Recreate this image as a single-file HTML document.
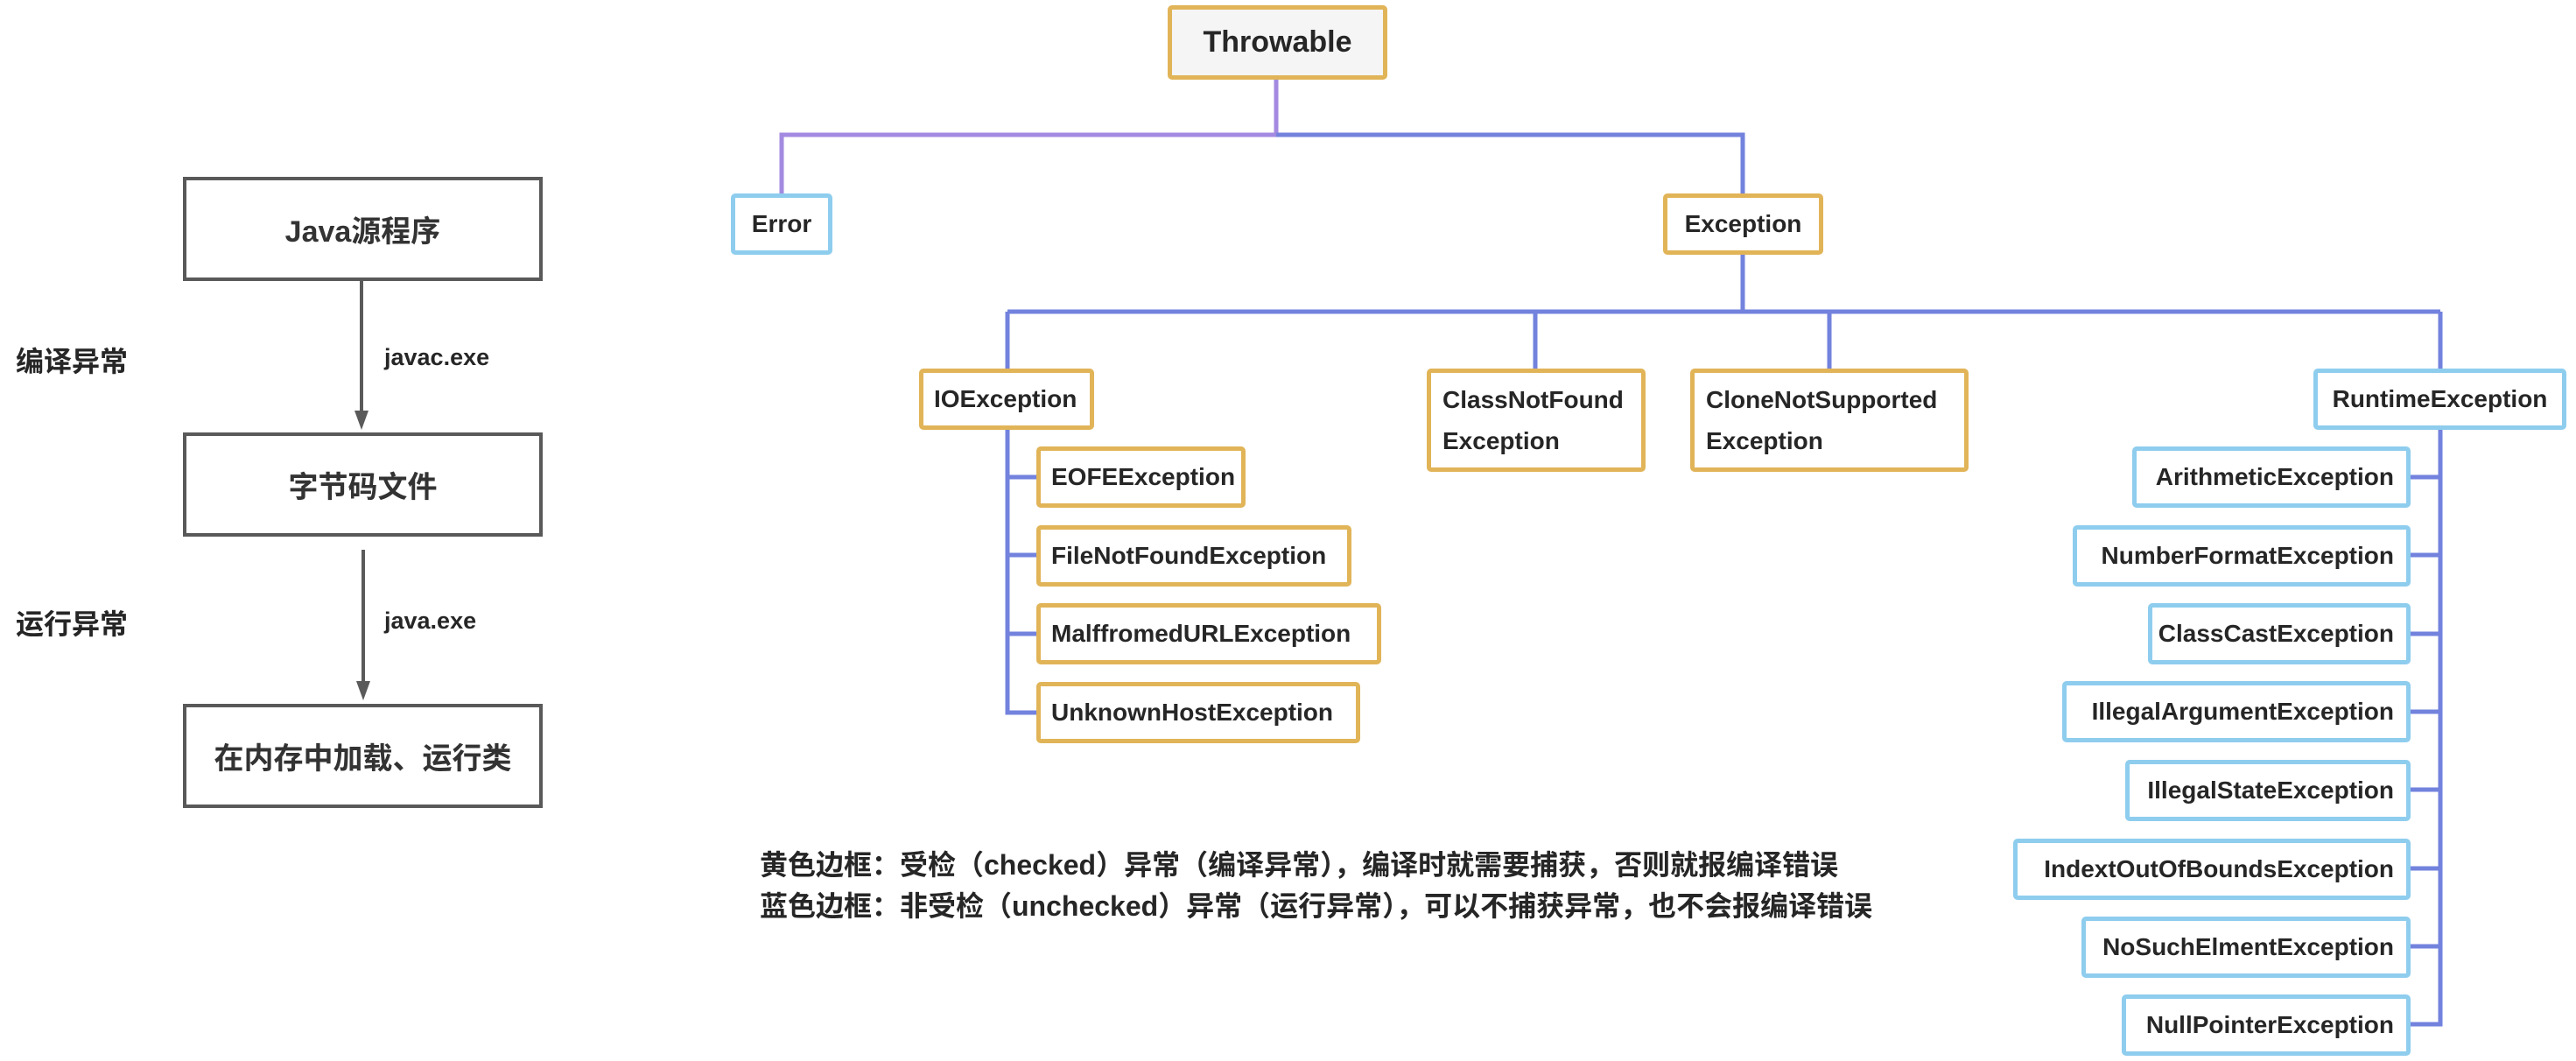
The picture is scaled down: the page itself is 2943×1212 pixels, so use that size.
<!DOCTYPE html>
<html><head><meta charset="utf-8"><style>
html,body{margin:0;padding:0;background:#fff;}
body{width:2943px;height:1212px;position:relative;overflow:hidden;font-family:"Liberation Sans","Noto Sans CJK SC",sans-serif;font-weight:bold;color:#262626;}
.b{position:absolute;box-sizing:border-box;border:5px solid #e1b458;border-radius:5px;background:#fff;display:flex;align-items:center;font-size:28px;white-space:nowrap;}
.y{border-color:#e1b458;}
.u{border-color:#8ecdee;}
.l{justify-content:flex-start;padding-left:12px;}
.r{justify-content:flex-end;padding-right:14px;}
.c{justify-content:center;}
.g{position:absolute;box-sizing:border-box;border:4px solid #595959;background:#fff;display:flex;align-items:center;justify-content:center;font-size:34px;color:#333;}
.t{position:absolute;white-space:nowrap;}
</style></head><body>
<svg width="2943" height="1212" style="position:absolute;left:0;top:0">
<g stroke="#5a5a5a" stroke-width="4" fill="#5a5a5a">
<line x1="413" y1="320" x2="413" y2="472"/>
<polygon points="405,469 421,469 413,491" stroke="none"/>
<line x1="415" y1="628" x2="415" y2="780"/>
<polygon points="407,778 423,778 415,800" stroke="none"/>
</g>
<g fill="none" stroke-width="5">
<polyline points="1458,90 1458,154 893,154 893,221" stroke="#a38ae0"/>
<polyline points="1458,154 1991,154 1991,221" stroke="#7282dd"/>
<g stroke="#7282dd">
<line x1="1991" y1="290" x2="1991" y2="356"/>
<line x1="1151" y1="356" x2="2788" y2="356"/>
<line x1="1151" y1="356" x2="1151" y2="421"/>
<line x1="1754" y1="356" x2="1754" y2="421"/>
<line x1="2090" y1="356" x2="2090" y2="421"/>
<line x1="2788" y1="356" x2="2788" y2="421"/>
<polyline points="1151,491 1151,814 1184,814"/>
<line x1="1151" y1="545" x2="1184" y2="545"/>
<line x1="1151" y1="634" x2="1184" y2="634"/>
<line x1="1151" y1="724" x2="1184" y2="724"/>
<polyline points="2788,490 2788,1170 2754,1170"/>
<line x1="2754" y1="545" x2="2788" y2="545"/>
<line x1="2754" y1="634" x2="2788" y2="634"/>
<line x1="2754" y1="724" x2="2788" y2="724"/>
<line x1="2754" y1="813" x2="2788" y2="813"/>
<line x1="2754" y1="902" x2="2788" y2="902"/>
<line x1="2754" y1="992" x2="2788" y2="992"/>
<line x1="2754" y1="1081" x2="2788" y2="1081"/>
</g>
</g>
</svg>

<div class="g" style="left:209px;top:202px;width:411px;height:119px">Java源程序</div>
<div class="g" style="left:209px;top:494px;width:411px;height:119px">字节码文件</div>
<div class="g" style="left:209px;top:804px;width:411px;height:119px">在内存中加载、运行类</div>
<div class="t" style="left:18px;top:388px;font-size:32px">编译异常</div>
<div class="t" style="left:18px;top:688px;font-size:32px">运行异常</div>
<div class="t" style="left:439px;top:393px;font-size:27px">javac.exe</div>
<div class="t" style="left:439px;top:694px;font-size:27px">java.exe</div>

<div class="b y c" style="left:1334px;top:6px;width:251px;height:85px;background:#f5f5f5;font-size:34px">Throwable</div>
<div class="b u c" style="left:835px;top:221px;width:116px;height:70px">Error</div>
<div class="b y c" style="left:1900px;top:221px;width:183px;height:70px">Exception</div>

<div class="b y l" style="left:1050px;top:421px;width:200px;height:70px">IOException</div>
<div class="b y l" style="left:1630px;top:421px;width:250px;height:118px;line-height:47px;white-space:normal;padding-left:13px">ClassNotFound<br>Exception</div>
<div class="b y l" style="left:1931px;top:421px;width:318px;height:118px;line-height:47px;white-space:normal;padding-left:13px">CloneNotSupported<br>Exception</div>
<div class="b u c" style="left:2643px;top:421px;width:289px;height:70px">RuntimeException</div>

<div class="b y l" style="left:1184px;top:510px;width:239px;height:70px">EOFEException</div>
<div class="b y l" style="left:1184px;top:600px;width:360px;height:70px">FileNotFoundException</div>
<div class="b y l" style="left:1184px;top:689px;width:394px;height:70px">MalffromedURLException</div>
<div class="b y l" style="left:1184px;top:779px;width:370px;height:70px">UnknownHostException</div>

<div class="b u r" style="left:2436px;top:510px;width:318px;height:70px">ArithmeticException</div>
<div class="b u r" style="left:2368px;top:600px;width:386px;height:70px">NumberFormatException</div>
<div class="b u r" style="left:2454px;top:689px;width:300px;height:70px">ClassCastException</div>
<div class="b u r" style="left:2356px;top:778px;width:398px;height:70px">IllegalArgumentException</div>
<div class="b u r" style="left:2428px;top:868px;width:326px;height:70px">IllegalStateException</div>
<div class="b u r" style="left:2300px;top:958px;width:454px;height:70px">IndextOutOfBoundsException</div>
<div class="b u r" style="left:2378px;top:1047px;width:376px;height:70px">NoSuchElmentException</div>
<div class="b u r" style="left:2424px;top:1136px;width:330px;height:70px">NullPointerException</div>

<div class="t" style="left:868px;top:963px;font-size:32px">黄色边框：受检（checked）异常（编译异常），编译时就需要捕获，否则就报编译错误</div>
<div class="t" style="left:868px;top:1010px;font-size:32px">蓝色边框：非受检（unchecked）异常（运行异常），可以不捕获异常，也不会报编译错误</div>
</body></html>
